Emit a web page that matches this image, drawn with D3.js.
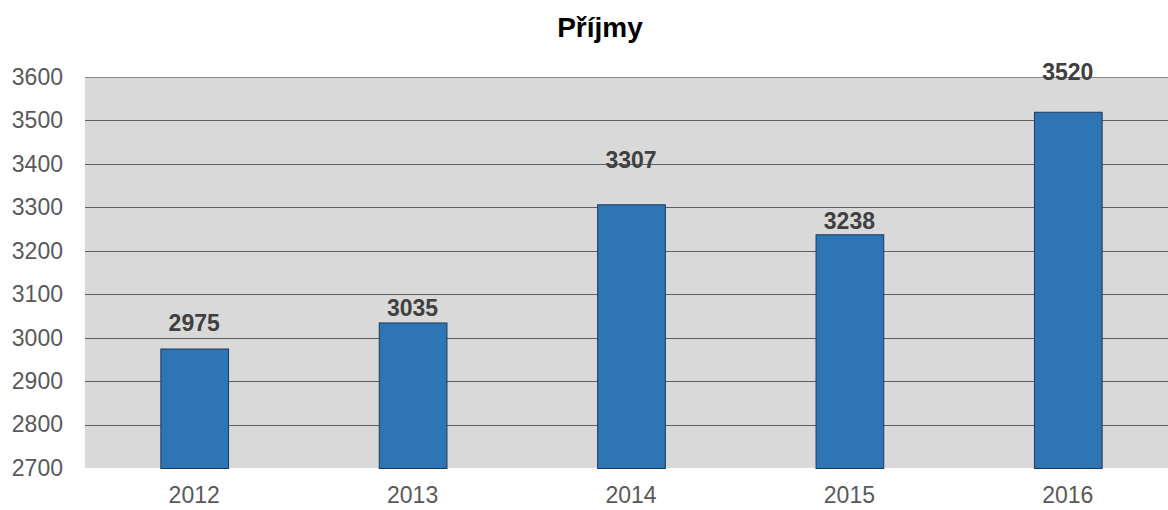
<!DOCTYPE html>
<html>
<head>
<meta charset="utf-8">
<script src="https://cdn.jsdelivr.net/npm/d3@7"></script>
<style>
  body { margin: 0; background: #fff; }
  svg { display: block; font-family: "Liberation Sans", Arial, sans-serif; }
</style>
</head>
<body>
<div id="chart"></div>
<script>
// data
var years = ["2012", "2013", "2014", "2015", "2016"];
var values = [2975, 3035, 3307, 3238, 3520];
// where each value label sits, in data units
var labelAt = [3015, 3050, 3391, 3250, 3593];
var yTicks = [2700, 2800, 2900, 3000, 3100, 3200, 3300, 3400, 3500, 3600];

var width = 1168, height = 510;
var plotL = 85, plotR = 1177, plotT = 77, plotB = 468;

var svg = d3.select("#chart").append("svg")
  .attr("width", width)
  .attr("height", height);

var x = d3.scaleBand().domain(years).range([plotL, plotR]).paddingInner(0.69).paddingOuter(0.345);
var y = d3.scaleLinear().domain([2700, 3600]).range([plotB, plotT]);

// plot background
svg.append("rect")
  .attr("x", plotL).attr("y", plotT)
  .attr("width", plotR - plotL).attr("height", plotB - plotT)
  .attr("fill", "#d9d9d9");

// gridlines
svg.append("g")
  .selectAll("line")
  .data(yTicks.slice(1))
  .enter().append("line")
  .attr("x1", plotL).attr("x2", plotR)
  .attr("y1", function (d) { return Math.round(y(d)) + 0.5; })
  .attr("y2", function (d) { return Math.round(y(d)) + 0.5; })
  .attr("stroke", function (d) { return d == 3600 ? "#8a8a8a" : "#5f5f5f"; })
  .attr("stroke-width", 1);

// y axis labels
var yAxis = svg.append("g")
  .attr("transform", "translate(" + (plotL - 22) + ",0)")
  .call(d3.axisLeft(y).tickValues(yTicks).tickSize(0).tickPadding(0).tickFormat(d3.format("d")));
yAxis.select(".domain").remove();
yAxis.selectAll("text")
  .attr("fill", "#595959")
  .style("font-size", "23px");

// x axis labels
var xAxis = svg.append("g")
  .attr("transform", "translate(0," + plotB + ")")
  .call(d3.axisBottom(x).tickSize(0).tickPadding(19));
xAxis.select(".domain").remove();
xAxis.selectAll("text")
  .attr("fill", "#595959")
  .style("font-size", "23px");

// bars
svg.append("g")
  .selectAll("rect")
  .data(values)
  .enter().append("rect")
  .attr("x", function (d, i) { return x(years[i]) + 0.5; })
  .attr("y", function (d) { return y(d) + 0.5; })
  .attr("width", x.bandwidth())
  .attr("height", function (d) { return plotB - y(d); })
  .attr("fill", "#2e75b6")
  .attr("stroke", "#1c3a57")
  .attr("stroke-width", 1);

// value labels
svg.append("g")
  .selectAll("text")
  .data(values)
  .enter().append("text")
  .attr("x", function (d, i) { return x(years[i]) + x.bandwidth() / 2; })
  .attr("y", function (d, i) { return y(labelAt[i]); })
  .attr("text-anchor", "middle")
  .attr("fill", "#404040")
  .style("font-size", "23px")
  .style("font-weight", "bold")
  .text(function (d) { return d; });

// title
svg.append("text")
  .attr("x", 600)
  .attr("y", 37)
  .attr("text-anchor", "middle")
  .attr("fill", "#000")
  .style("font-size", "28px")
  .style("font-weight", "bold")
  .text("Příjmy");
</script>
</body>
</html>
